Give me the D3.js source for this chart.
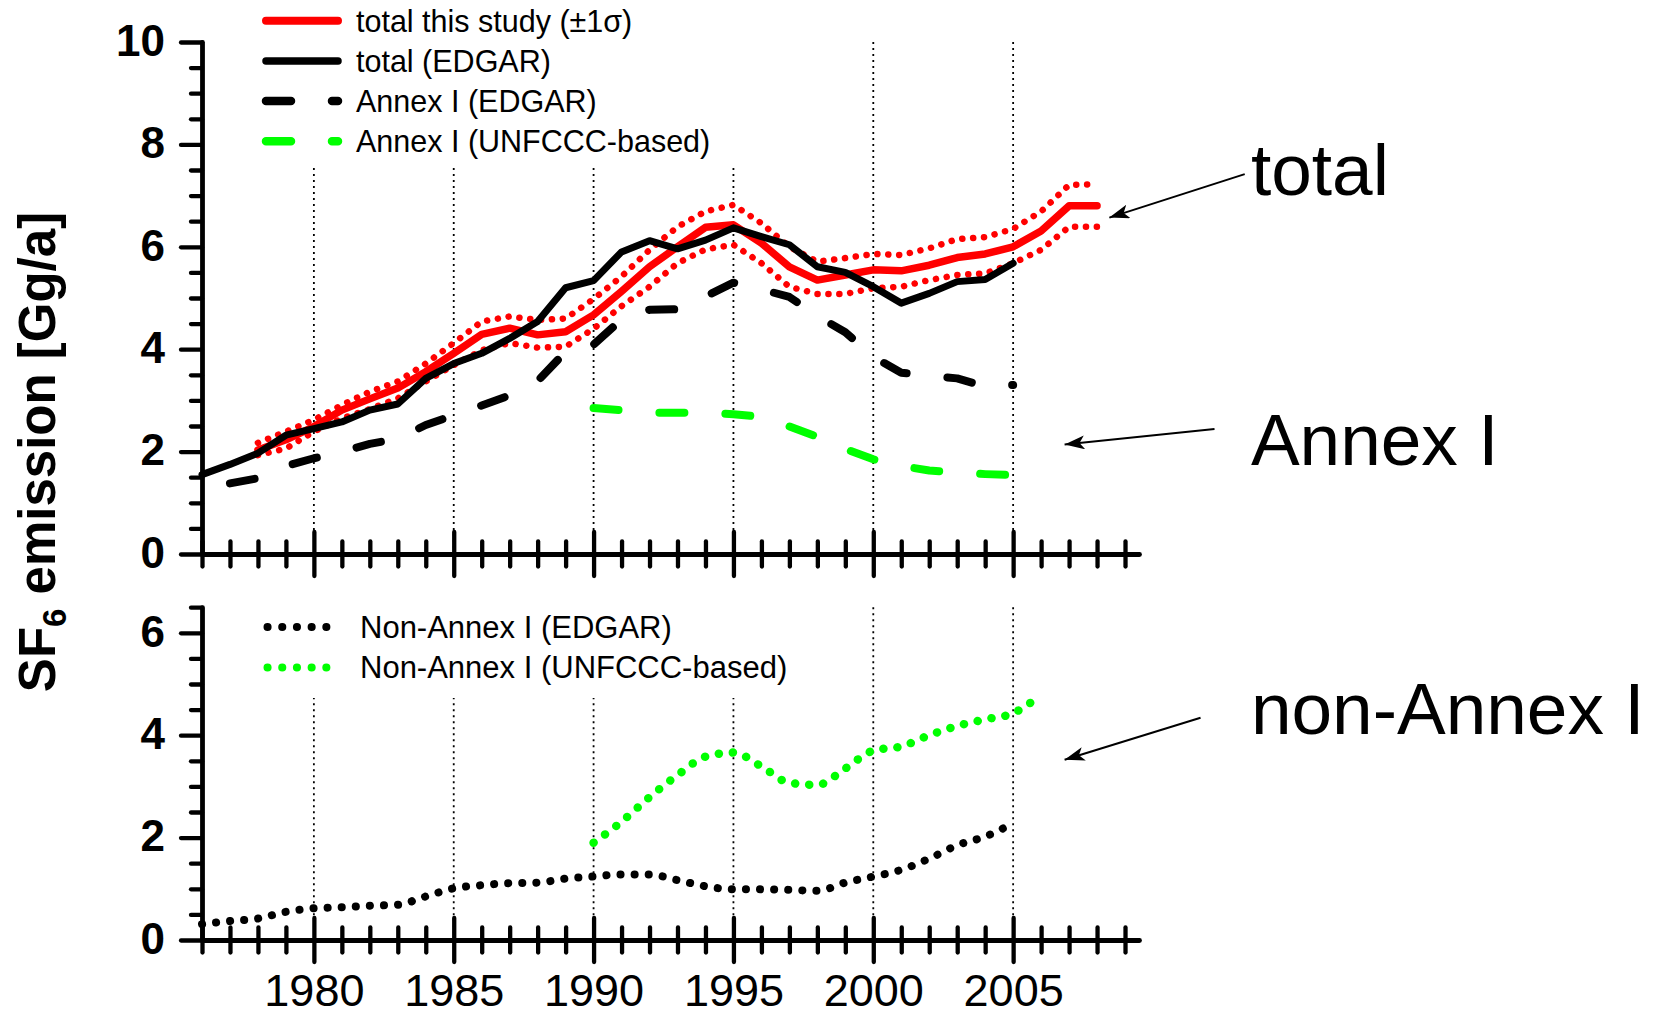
<!DOCTYPE html>
<html><head><meta charset="utf-8">
<script src="https://cdn.jsdelivr.net/npm/d3@7"></script>
<style>
body{margin:0;background:#fff}
svg{display:block}
text{font-family:"Liberation Sans",Arimo,Arial,Helvetica,sans-serif}
</style>
</head><body>
<svg id="chart" width="1660" height="1016"></svg>
<script>
// ---------- DATA ----------
const yearsStudy = [1978,1979,1980,1981,1982,1983,1984,1985,1986,1987,1988,1989,1990,1991,1992,1993,1994,1995,1996,1997,1998,1999,2000,2001,2002,2003,2004,2005,2006,2007,2008];
const totalStudy   = [2.03,2.23,2.49,2.81,3.03,3.24,3.56,3.92,4.29,4.41,4.28,4.34,4.67,5.13,5.61,6.00,6.38,6.43,6.07,5.61,5.35,5.45,5.55,5.53,5.64,5.79,5.86,6.00,6.31,6.80,6.80];
const totalStudyHi = [2.17,2.39,2.62,2.91,3.17,3.37,3.72,4.12,4.54,4.64,4.57,4.60,4.98,5.42,5.94,6.39,6.69,6.82,6.46,6.00,5.71,5.78,5.86,5.84,5.97,6.15,6.19,6.35,6.69,7.21,7.22];
const totalStudyLo = [1.93,2.06,2.39,2.65,2.83,3.04,3.37,3.69,3.98,4.12,4.03,4.05,4.40,4.84,5.22,5.68,5.95,6.04,5.68,5.22,5.08,5.08,5.19,5.22,5.35,5.45,5.48,5.68,5.94,6.39,6.39];

const yearsEdgar = [1976,1977,1978,1979,1980,1981,1982,1983,1984,1985,1986,1987,1988,1989,1990,1991,1992,1993,1994,1995,1996,1997,1998,1999,2000,2001,2002,2003,2004,2005];
const totalEdgar = [1.55,1.75,1.97,2.32,2.45,2.58,2.81,2.93,3.43,3.72,3.92,4.21,4.54,5.20,5.34,5.90,6.12,5.96,6.13,6.37,6.20,6.04,5.61,5.50,5.22,4.90,5.09,5.32,5.36,5.68];

const yearsAnnexEdgar = [1977,1978,1979,1980,1981,1982,1983,1984,1985,1986,1987,1988,1989,1990,1991,1992,1993,1994,1995,1996,1997,1998,1999,2000,2001,2002,2003,2004,2005];
const annexEdgar = [1.38,1.48,1.72,1.87,2.00,2.15,2.25,2.52,2.71,2.90,3.10,3.38,3.95,4.09,4.58,4.77,4.78,5.03,5.30,5.17,5.02,4.65,4.33,3.85,3.54,3.48,3.43,3.27,3.30];

const yearsAnnexUnfccc = [1990,1991,1992,1993,1994,1995,1996,1997,1998,1999,2000,2001,2002,2003,2004,2005];
const annexUnfccc = [2.85,2.81,2.76,2.76,2.76,2.73,2.68,2.49,2.29,2.05,1.85,1.72,1.63,1.59,1.56,1.54];

const yearsNonAnnexEdgar = [1976,1977,1978,1979,1980,1981,1982,1983,1984,1985,1986,1987,1988,1989,1990,1991,1992,1993,1994,1995,1996,1997,1998,1999,2000,2001,2002,2003,2004,2005];
const nonAnnexEdgar = [0.31,0.37,0.42,0.55,0.62,0.64,0.67,0.69,0.85,1.01,1.07,1.11,1.12,1.20,1.24,1.28,1.28,1.17,1.05,0.99,0.99,0.98,0.96,1.12,1.24,1.37,1.59,1.85,2.02,2.28];

const yearsNonAnnexUnfccc = [1990,1991,1992,1993,1994,1995,1996,1997,1998,1999,2000,2001,2002,2003,2004,2005,2006];
const nonAnnexUnfccc = [1.90,2.31,2.79,3.22,3.58,3.66,3.39,3.07,3.03,3.35,3.70,3.78,4.00,4.18,4.31,4.43,4.79];

const xTickYears = [1976,1977,1978,1979,1980,1981,1982,1983,1984,1985,1986,1987,1988,1989,1990,1991,1992,1993,1994,1995,1996,1997,1998,1999,2000,2001,2002,2003,2004,2005,2006,2007,2008,2009];
const xMajorYears = [1980,1985,1990,1995,2000,2005];
const yTopTicks = [0,0.5,1,1.5,2,2.5,3,3.5,4,4.5,5,5.5,6,6.5,7,7.5,8,8.5,9,9.5,10];
const yTopMajor = [0,2,4,6,8,10];
const yBotTicks = [0,0.5,1,1.5,2,2.5,3,3.5,4,4.5,5,5.5,6,6.5];
const yBotMajor = [0,2,4,6];

const topLegendLabels = ["total this study (\u00b11\u03c3)","total (EDGAR)","Annex I (EDGAR)","Annex I (UNFCCC-based)"];
const bottomLegendLabels = ["Non-Annex I (EDGAR)","Non-Annex I (UNFCCC-based)"];

// annotations: label, panel, text anchor (year,value), arrow tail, arrow tip
const annoLabels = ["total","Annex I","non-Annex I"];
const annoPanels = ["top","top","bottom"];
const annoText = [[2013.5,7.01],[2013.5,1.74],[2013.5,4.02]];
const annoTail = [[2013.28,7.42],[2012.2,2.44],[2011.7,4.34]];
const annoTip  = [[2008.44,6.57],[2006.84,2.14],[2006.84,3.52]];

// ---------- LAYOUT ----------
const svg = d3.select("#chart");
const x = d3.scaleLinear().domain([1976, 2009.5]).range([202, 1139]);
const yTop = d3.scaleLinear().domain([0, 10]).range([554, 42]);
const yBot = d3.scaleLinear().domain([0, 6.5]).range([940, 607.2]);

const RED = "#ff0000", GREEN = "#00ff00", BLACK = "#000";

// gridlines
function grid(yScale, top) {
  svg.append("g").selectAll("line").data(xMajorYears).join("line")
    .attr("x1", d => x(d)).attr("x2", d => x(d))
    .attr("y1", yScale(top)).attr("y2", yScale(0))
    .attr("stroke", BLACK).attr("stroke-width", 1.8)
    .attr("stroke-dasharray", "2,4");
}
grid(yTop, 10);
grid(yBot, 6.5);

// legend backgrounds (hide gridlines behind legends)
svg.append("rect").attr("x", 240).attr("y", 0).attr("width", 530).attr("height", 168).attr("fill", "#fff");
svg.append("rect").attr("x", 240).attr("y", 600).attr("width", 560).attr("height", 98).attr("fill", "#fff");

// ---------- LINES ----------
function series(years, vals, yScale, style, curve) {
  const line = d3.line().x(d => x(d[0])).y(d => yScale(d[1])).curve(curve || d3.curveLinear);
  const p = svg.append("path").datum(years.map((y, i) => [y, vals[i]]))
    .attr("d", line).attr("fill", "none")
    .attr("stroke", style.color).attr("stroke-width", style.width)
    .attr("stroke-linecap", "round").attr("stroke-linejoin", "round");
  if (style.dash) p.attr("stroke-dasharray", style.dash);
}
const sRedSolid = {color: RED, width: 7.5};
const sRedDot = {color: RED, width: 6.5, dash: "0.1,10.8"};
const sBlackSolid = {color: BLACK, width: 7};
const sBlackDash = {color: BLACK, width: 8, dash: "25,41"};
const sGreenDash = {color: GREEN, width: 8, dash: "25,41"};
const sBlackDot = {color: BLACK, width: 8, dash: "0.1,14"};
const sGreenDot = {color: GREEN, width: 8.5, dash: "0.1,14"};

series(yearsAnnexUnfccc, annexUnfccc, yTop, sGreenDash);
series(yearsAnnexEdgar, annexEdgar, yTop, sBlackDash);
series(yearsStudy, totalStudyHi, yTop, sRedDot);
series(yearsStudy, totalStudyLo, yTop, sRedDot);
series(yearsStudy, totalStudy, yTop, sRedSolid);
series(yearsEdgar, totalEdgar, yTop, sBlackSolid);

series(yearsNonAnnexEdgar, nonAnnexEdgar, yBot, sBlackDot, d3.curveMonotoneX);
series(yearsNonAnnexUnfccc, nonAnnexUnfccc, yBot, sGreenDot, d3.curveMonotoneX);

// ---------- AXES ----------
function styleAxis(g) {
  g.select(".domain").attr("stroke-width", 4.8).attr("stroke", BLACK).attr("stroke-linecap", "round");
  g.selectAll(".tick line").attr("stroke-width", 4.3).attr("stroke", BLACK).attr("stroke-linecap", "round");
}
function yAxis(yScale, ticks, majors) {
  const ax = d3.axisLeft(yScale).tickValues(ticks).tickSizeInner(21).tickSizeOuter(0).tickPadding(16)
    .tickFormat(d => majors.includes(d) ? d3.format("d")(d) : "");
  const g = svg.append("g").call(ax);
  g.attr("font-family", null).attr("font-size", null);
  styleAxis(g);
  g.selectAll(".tick line").attr("x2", d => majors.includes(d) ? -21 : -11);
  g.selectAll(".tick text").attr("font-size", 44).attr("font-weight", "bold").attr("fill", BLACK).attr("dy", "0.3em");
  g.attr("transform", `translate(${x(1976)},0)`);
}
function xAxis(yScale, labels) {
  const ax = d3.axisBottom(x).tickValues(xTickYears).tickSizeInner(22).tickSizeOuter(0).tickPadding(12)
    .tickFormat(d => (labels && xMajorYears.includes(d)) ? String(d) : "");
  const g = svg.append("g").attr("transform", `translate(0,${yScale(0)})`).call(ax);
  g.attr("font-family", null).attr("font-size", null);
  styleAxis(g);
  g.selectAll(".tick line")
    .attr("y1", d => xMajorYears.includes(d) ? -22 : -12.5)
    .attr("y2", d => xMajorYears.includes(d) ? 22 : 12.5);
  g.selectAll(".tick text").attr("font-size", 45).attr("fill", BLACK);
}
xAxis(yTop, false);
xAxis(yBot, true);
yAxis(yTop, yTopTicks, yTopMajor);
yAxis(yBot, yBotTicks, yBotMajor);

// y title
const title = svg.append("text")
  .attr("transform", "translate(55,452) rotate(-90)")
  .attr("text-anchor", "middle").attr("font-size", 51).attr("font-weight", "bold").attr("fill", BLACK);
title.append("tspan").text("SF");
title.append("tspan").attr("font-size", 33).attr("dy", 11).text("6");
title.append("tspan").attr("dy", -11).text(" emission [Gg/a]");

// ---------- LEGENDS ----------
const topStyles = [sRedSolid, sBlackSolid, sBlackDash, sGreenDash];
const topLeg = svg.append("g").selectAll("g").data(topLegendLabels).join("g")
  .attr("transform", (d, i) => `translate(0,${20.7 + i * 40.2})`);
topLeg.append("line").attr("x1", 266).attr("x2", 338).attr("y1", 0).attr("y2", 0)
  .attr("stroke", (d, i) => topStyles[i].color).attr("stroke-width", (d, i) => topStyles[i].width + 0.5)
  .attr("stroke-linecap", "round")
  .attr("stroke-dasharray", (d, i) => topStyles[i].dash || null);
topLeg.append("text").attr("x", 356).attr("y", 10.8).attr("font-size", 30.5).attr("fill", BLACK).text(d => d);

const botStyles = [sBlackDot, sGreenDot];
const botLeg = svg.append("g").selectAll("g").data(bottomLegendLabels).join("g")
  .attr("transform", (d, i) => `translate(0,${627 + i * 40.5})`);
botLeg.append("line").attr("x1", 267.5).attr("x2", 341).attr("y1", 0).attr("y2", 0)
  .attr("stroke", (d, i) => botStyles[i].color).attr("stroke-width", 8)
  .attr("stroke-linecap", "round").attr("stroke-dasharray", "0.1,14.6");
botLeg.append("text").attr("x", 360).attr("y", 10.8).attr("font-size", 31).attr("fill", BLACK).text(d => d);

// ---------- ANNOTATIONS ----------
svg.append("defs").append("marker").attr("id", "arrow")
  .attr("markerUnits", "userSpaceOnUse").attr("markerWidth", 22).attr("markerHeight", 16)
  .attr("refX", 20).attr("refY", 7).attr("orient", "auto")
  .append("path").attr("d", "M0,0 L20,7 L0,14 L5,7 Z").attr("fill", BLACK);

annoLabels.forEach((lab, i) => {
  const ys = annoPanels[i] === "top" ? yTop : yBot;
  svg.append("line")
    .attr("x1", x(annoTail[i][0])).attr("y1", ys(annoTail[i][1]))
    .attr("x2", x(annoTip[i][0])).attr("y2", ys(annoTip[i][1]))
    .attr("stroke", BLACK).attr("stroke-width", 2).attr("marker-end", "url(#arrow)");
  svg.append("text").attr("x", x(annoText[i][0])).attr("y", ys(annoText[i][1]))
    .attr("font-size", 73).attr("fill", BLACK).text(lab);
});
</script>
</body></html>
